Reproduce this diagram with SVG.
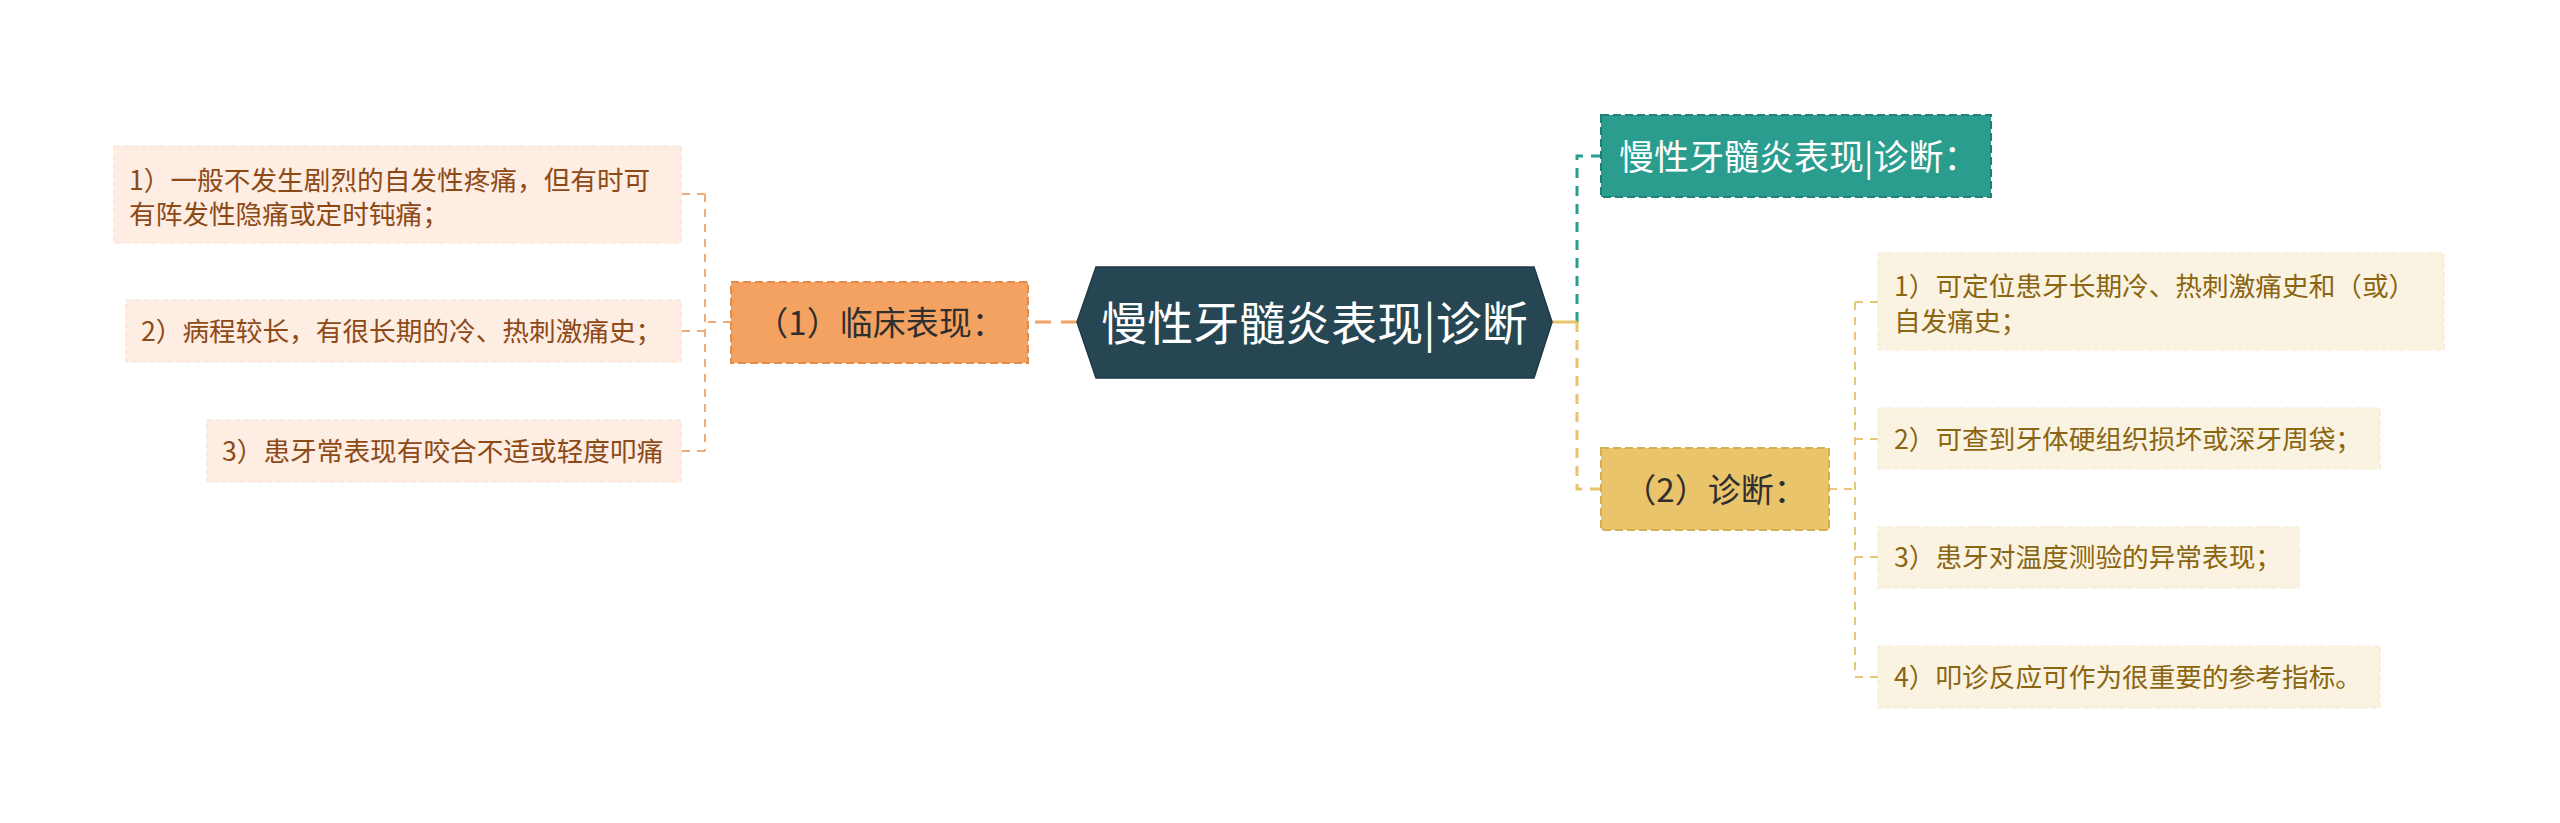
<svg xmlns="http://www.w3.org/2000/svg" width="2560" height="823" viewBox="0 0 2560 823">
<style>
text{font-family:"Noto Sans CJK SC","Noto Sans",sans-serif}
.root{fill:#ffffff;font-size:46px}
.main{font-size:33px;fill:#2f2f2f}
.teal{font-size:35px;fill:#ffffff}
.lc{font-size:26.67px;fill:#8e4a16}
.rc{font-size:26.67px;fill:#8a6512}
.lbox{fill:#fdede3;stroke:#fbe2d3;stroke-width:1.2;stroke-dasharray:6 3}
.rbox{fill:#fbf3e2;stroke:#f5ead2;stroke-width:1.2;stroke-dasharray:6 3}
.lcon{fill:none;stroke:#eeac7a;stroke-width:2;stroke-dasharray:8 7}
.rcon{fill:none;stroke:#e8c678;stroke-width:2;stroke-dasharray:8 7}
</style>
<rect width="2560" height="823" fill="#ffffff"/>
<g id="connectors">
  <path d="M1077 322 H1028" fill="none" stroke="#f2a468" stroke-width="3" stroke-dasharray="16 10"/>
  <path d="M731 322 H705" class="lcon"/>
  <path d="M705 194 V451" class="lcon"/>
  <path d="M705 194 H681 M705 331 H681 M705 451 H681" class="lcon"/>
  <path d="M1577 322 V156 H1601" fill="none" stroke="#2a9d8f" stroke-width="3" stroke-dasharray="10 8"/>
  <path d="M1552 322 H1577" fill="none" stroke="#e9c46a" stroke-width="3"/>
  <path d="M1577 322 V489 H1601" fill="none" stroke="#e9c46a" stroke-width="3" stroke-dasharray="10 8"/>
  <path d="M1829 489 H1855" class="rcon"/>
  <path d="M1855 302 V677" class="rcon"/>
  <path d="M1855 302 H1878 M1855 439 H1878 M1855 557 H1878 M1855 677 H1878" class="rcon"/>
</g>
<g id="root">
  <polygon points="1077,322 1096,267 1534,267 1552,322 1534,378 1096,378" fill="#264653" stroke="#1d3a45" stroke-width="1.5"/>
  <text class="root" x="1314.5" y="339.5" text-anchor="middle">慢性牙髓炎表现|诊断</text>
</g>
<g id="node-clinical">
  <rect x="731" y="282" width="297" height="81" fill="#f4a261" stroke="#e38b49" stroke-width="2" stroke-dasharray="8 4"/>
  <text class="main" x="880" y="334.5" text-anchor="middle">（1）临床表现：</text>
</g>
<g id="node-l1">
  <rect x="114" y="146" width="567" height="97" class="lbox"/>
  <text class="lc" x="129" y="190">1）一般不发生剧烈的自发性疼痛，但有时可</text>
  <text class="lc" x="129" y="224">有阵发性隐痛或定时钝痛；</text>
</g>
<g id="node-l2">
  <rect x="126" y="300" width="555" height="62" class="lbox"/>
  <text class="lc" x="141" y="341">2）病程较长，有很长期的冷、热刺激痛史；</text>
</g>
<g id="node-l3">
  <rect x="207" y="420" width="474" height="62" class="lbox"/>
  <text class="lc" x="222" y="461">3）患牙常表现有咬合不适或轻度叩痛</text>
</g>
<g id="node-teal">
  <rect x="1601" y="115" width="390" height="82" fill="#2a9d8f" stroke="#1f8174" stroke-width="2" stroke-dasharray="8 4"/>
  <text class="teal" x="1619" y="169.5">慢性牙髓炎表现|诊断：</text>
</g>
<g id="node-diagnosis">
  <rect x="1601" y="448" width="228" height="82" fill="#e9c46a" stroke="#d6ae52" stroke-width="2" stroke-dasharray="8 4"/>
  <text class="main" x="1715" y="501.5" text-anchor="middle">（2）诊断：</text>
</g>
<g id="node-r1">
  <rect x="1878" y="253" width="566" height="97" class="rbox"/>
  <text class="rc" x="1894" y="296">1）可定位患牙长期冷、热刺激痛史和（或）</text>
  <text class="rc" x="1894" y="331">自发痛史；</text>
</g>
<g id="node-r2">
  <rect x="1878" y="408" width="502" height="61" class="rbox"/>
  <text class="rc" x="1894" y="449">2）可查到牙体硬组织损坏或深牙周袋；</text>
</g>
<g id="node-r3">
  <rect x="1878" y="527" width="421" height="61" class="rbox"/>
  <text class="rc" x="1894" y="567">3）患牙对温度测验的异常表现；</text>
</g>
<g id="node-r4">
  <rect x="1878" y="646" width="502" height="62" class="rbox"/>
  <text class="rc" x="1894" y="687">4）叩诊反应可作为很重要的参考指标。</text>
</g>
</svg>
